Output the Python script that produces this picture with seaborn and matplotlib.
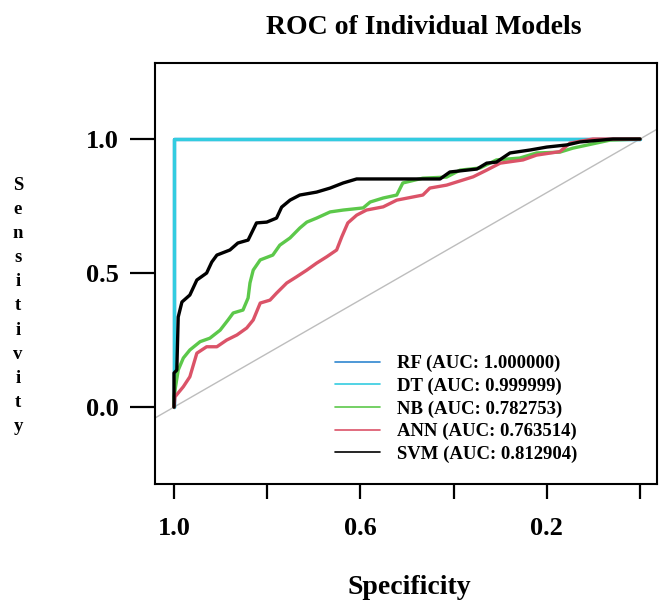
import matplotlib
matplotlib.use("Agg")
import matplotlib.pyplot as plt
from matplotlib.lines import Line2D
import pandas as pd
import seaborn as sns

models = ["RF", "DT", "NB", "ANN", "SVM"]
auc = ["1.000000", "0.999999", "0.782753", "0.763514", "0.812904"]
colors = ["#2F86CF", "#33CCE0", "#5CC84A", "#DB5368", "#000000"]

# specificity / sensitivity
rf_spec = [1.0, 1.0, 0.0]
rf_sens = [0.0, 1.0, 1.0]
dt_spec = [1.0, 1.0, 0.0]
dt_sens = [0.0, 1.0, 1.0]
nb_spec = [1.0, 1.0, 0.991, 0.980, 0.966, 0.944, 0.923, 0.901, 0.884, 0.873, 0.852,
           0.841, 0.837, 0.830, 0.815, 0.788, 0.773, 0.751, 0.730, 0.715, 0.694,
           0.665, 0.637, 0.594, 0.579, 0.551, 0.522, 0.509, 0.466, 0.415, 0.386,
           0.343, 0.308, 0.258, 0.222, 0.172, 0.144, 0.064, 0.0]
nb_sens = [0.0, 0.04, 0.138, 0.183, 0.213, 0.244, 0.257, 0.287, 0.325, 0.351, 0.362,
           0.407, 0.463, 0.511, 0.549, 0.567, 0.604, 0.631, 0.668, 0.690, 0.705,
           0.728, 0.735, 0.743, 0.765, 0.780, 0.791, 0.836, 0.854, 0.858, 0.884,
           0.892, 0.922, 0.929, 0.948, 0.951, 0.966, 0.996, 1.0]
ann_spec = [1.0, 0.998, 0.980, 0.966, 0.951, 0.930, 0.908, 0.887, 0.865, 0.844, 0.830,
            0.815, 0.794, 0.780, 0.758, 0.737, 0.715, 0.694, 0.672, 0.651, 0.640,
            0.627, 0.608, 0.587, 0.551, 0.522, 0.466, 0.451, 0.415, 0.358, 0.329,
            0.300, 0.251, 0.222, 0.172, 0.150, 0.101, 0.0]
ann_sens = [0.0, 0.038, 0.076, 0.113, 0.201, 0.225, 0.225, 0.250, 0.269, 0.295, 0.325,
            0.388, 0.399, 0.425, 0.463, 0.486, 0.511, 0.537, 0.561, 0.586, 0.635,
            0.687, 0.716, 0.735, 0.747, 0.772, 0.791, 0.817, 0.828, 0.859, 0.884,
            0.910, 0.922, 0.940, 0.953, 0.985, 1.0, 1.0]
svm_spec = [1.0, 1.0, 0.994, 0.991, 0.983, 0.966, 0.951, 0.930, 0.919, 0.908, 0.880,
            0.863, 0.841, 0.823, 0.801, 0.780, 0.769, 0.751, 0.730, 0.694, 0.665,
            0.637, 0.608, 0.429, 0.408, 0.350, 0.329, 0.308, 0.279, 0.236, 0.200,
            0.157, 0.129, 0.058, 0.0]
svm_sens = [0.0, 0.127, 0.138, 0.336, 0.392, 0.418, 0.474, 0.500, 0.541, 0.567, 0.586,
            0.612, 0.623, 0.687, 0.690, 0.705, 0.746, 0.772, 0.791, 0.802, 0.817,
            0.836, 0.851, 0.851, 0.877, 0.888, 0.910, 0.914, 0.948, 0.959, 0.970,
            0.978, 0.989, 1.0, 1.0]

specs = [rf_spec, dt_spec, nb_spec, ann_spec, svm_spec]
senss = [rf_sens, dt_sens, nb_sens, ann_sens, svm_sens]

frames = []
for m, sp, se in zip(models, specs, senss):
    frames.append(pd.DataFrame({"Specificity": sp, "Sensitivity": se, "model": m}))
df = pd.concat(frames, ignore_index=True)

sns.set_style("white")
plt.rcParams["font.family"] = ["Liberation Serif", "DejaVu Serif"]
plt.rcParams["font.weight"] = "bold"
plt.rcParams["text.color"] = "black"
plt.rcParams["xtick.color"] = "black"
plt.rcParams["ytick.color"] = "black"
plt.rcParams["xtick.labelcolor"] = "black"
plt.rcParams["ytick.labelcolor"] = "black"

fig = plt.figure(figsize=(6.59, 6.02), dpi=100)
ax = fig.add_axes([155 / 659, 1 - 484 / 602, 502 / 659, 421 / 602])

ax.axline((1.0, 0.0), (0.0, 1.0), color="#bdbdbd", lw=1, zorder=1)
sns.lineplot(data=df, x="Specificity", y="Sensitivity", hue="model",
             hue_order=models, palette=dict(zip(models, colors)),
             sort=False, estimator=None, linewidth=2.4, legend=False, ax=ax, zorder=2)

ax.set_xlim(1.0408, -0.0365)
ax.set_ylim(-0.287, 1.2836)

ax.set_xticks([1.0, 0.8, 0.6, 0.4, 0.2, 0.0])
ax.set_xticklabels(["1.0", "", "0.6", "", "0.2", ""])
ax.set_yticks([1.0, 0.5, 0.0])
ax.set_yticklabels(["1.0", "0.5", "0.0"])
ax.tick_params(axis="x", direction="out", length=11, width=1.6, pad=13,
               labelsize=19, bottom=True)
ax.tick_params(axis="y", direction="out", length=18, width=1.6, pad=8,
               labelsize=19, left=True)
for lab in ax.get_xticklabels() + ax.get_yticklabels():
    lab.set_fontweight("bold")
    lab.set_color("black")

for s in ax.spines.values():
    s.set_visible(True)
    s.set_color("black")
    s.set_linewidth(1.5)

ax.set_xlabel("")
ax.set_ylabel("")

handles = [Line2D([0], [0], color=c, lw=1.2) for c in colors]
labels = [f"{m} (AUC: {a})" for m, a in zip(models, auc)]
ax.legend(handles, labels, loc="upper left", bbox_to_anchor=(0.3586, 0.306),
          frameon=False, borderpad=0, borderaxespad=0, handlelength=2.4,
          handletextpad=0.9, labelspacing=0.28, prop={"size": 13.5, "weight": "bold"})

fig.text(424 / 659, 1 - 27 / 602, "ROC of Individual Models", ha="center", va="center",
         fontsize=20, fontweight="bold", color="black")
fig.text(409 / 659, 1 - 588 / 602, "Specificity", ha="center", va="center",
         fontsize=20, fontweight="bold", color="black")
fig.text(18 / 659, 1 - 306 / 602, "\n".join("Sensitivity"), ha="center", va="center",
         fontsize=13.5, fontweight="bold", linespacing=1.55, color="black")

fig.savefig("out.png", dpi=100)
